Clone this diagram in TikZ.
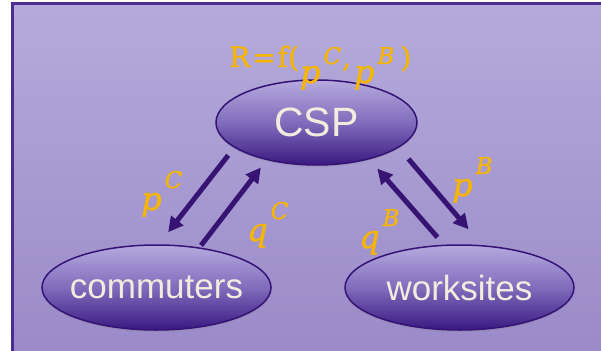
\documentclass[tikz,border=0pt]{standalone}
\usepackage{fontspec}
\setsansfont{Liberation Sans}
\newfontfamily\labfont[FakeBold=1.2]{DejaVu Serif}
\usetikzlibrary{shapes,arrows.meta,shadows}
\definecolor{bgtop}{RGB}{180,171,218}
\definecolor{bgbot}{RGB}{153,136,199}
\definecolor{framec}{RGB}{75,45,145}
\definecolor{ovaltop}{RGB}{182,170,222}
\definecolor{ovalmid}{RGB}{128,108,188}
\definecolor{ovalbot}{RGB}{58,24,128}
\definecolor{ovalline}{RGB}{52,18,118}
\definecolor{arrowc}{RGB}{55,20,115}
\definecolor{gold}{RGB}{246,181,0}
\definecolor{cream}{RGB}{240,236,222}
\tikzstyle{oval} = [ellipse, draw=ovalline, line width=1.5pt, top color=ovaltop,
    bottom color=ovalbot, middle color=ovalmid, inner sep=0pt, inner xsep=-10pt,
    minimum width=229pt, minimum height=85pt, text=cream,
    font=\sffamily\fontsize{35}{42}\selectfont,
    drop shadow={shadow xshift=0pt, shadow yshift=-2pt, opacity=0.25}]
\tikzstyle{line} = [draw=arrowc, line width=5pt, -{Triangle[length=15pt,width=15pt]}]
\tikzstyle{price} = [text=gold, inner sep=0pt, anchor=base west, font=\labfont]
% p^C style label with a high superscript
\newcommand{\varsup}[3][22pt]{{\fontsize{32}{38}\selectfont\itshape #2}\kern3pt\raisebox{#1}{\fontsize{23}{28}\selectfont\itshape #3}}

\begin{document}
\begin{tikzpicture}[x=1pt,y=-1pt,node distance=165pt]
  \useasboundingbox (0,0) rectangle (601,350);
  \clip (0,0) rectangle (601,350);
  \fill [top color=bgtop, bottom color=bgbot] (12,4) rectangle (620,370);
  \draw [framec, line width=3pt] (12,370) -- (12,4) -- (620,4);

  \node [oval, minimum width=201pt, font=\sffamily\fontsize{41}{48}\selectfont] (csp) at (316.5,122.5) {CSP};
  \node [oval, below of=csp, xshift=-160pt] (comm) {commuters};
  \node [oval, below of=csp, xshift=143pt] (ws) {worksites};

  \path [line, shorten <=9.7pt, shorten >=15.2pt] (csp.197) -- (comm.87);
  \path [line, shorten <=2.5pt, shorten >=9.3pt] (comm.43) -- (csp.217);
  \path [line, shorten <=9.8pt, shorten >=12.3pt] (ws.110) -- (csp.325);
  \path [line, shorten <=14.8pt, shorten >=20.8pt] (csp.343) -- (ws.62);

  \node [price, font=\labfont\fontsize{28}{34}\selectfont] (rev) at (229,67)
    {R\kern2pt=\kern2pt f(\kern1pt\raisebox{-16pt}{\varsup[19pt]{p}{C}}\kern1pt,\kern3pt\raisebox{-16pt}{\varsup[19pt]{p}{B}}\kern6pt)};
  \node [price] (pc) at (141,210) {\varsup{p}{C}};
  \node [price] (qc) at (247,241) {\varsup{q}{C}};
  \node [price] (qb) at (359,248) {\varsup{q}{B}};
  \node [price] (pb) at (452,196) {\varsup{p}{B}};
\end{tikzpicture}
\end{document}
